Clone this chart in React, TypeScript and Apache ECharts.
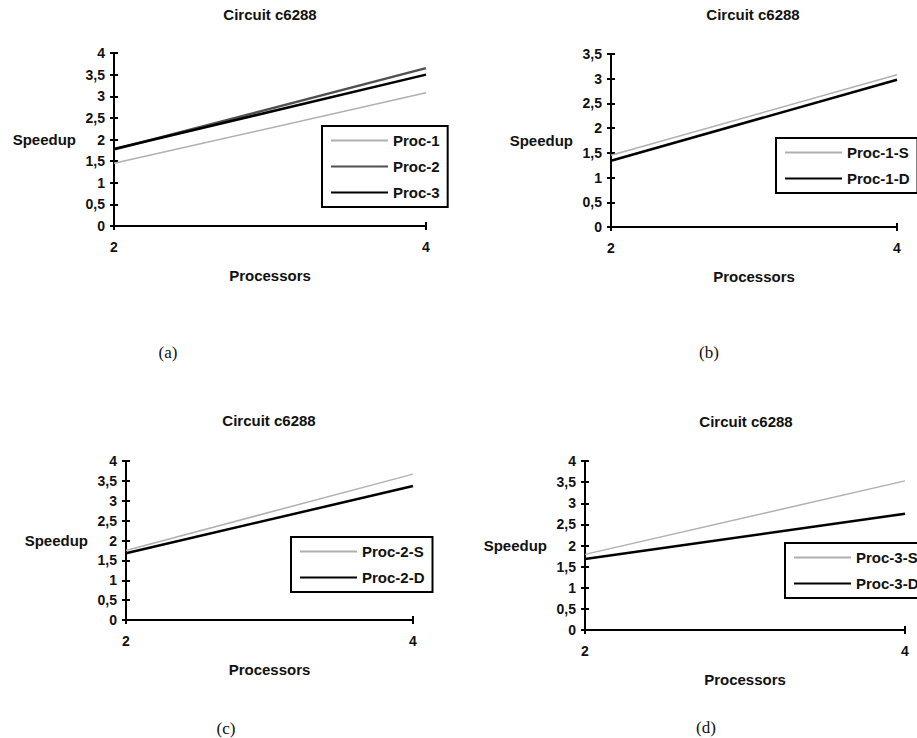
import React, { useEffect, useRef } from "react";
import * as echarts from "echarts";

const processors = [2, 4];

// (a)
const aProc1 = [1.45, 3.08];
const aProc2 = [1.77, 3.65];
const aProc3 = [1.78, 3.5];
// (b)
const bProc1S = [1.45, 3.08];
const bProc1D = [1.34, 2.98];
// (c)
const cProc2S = [1.75, 3.67];
const cProc2D = [1.68, 3.37];
// (d)
const dProc3S = [1.79, 3.53];
const dProc3D = [1.68, 2.75];

const titleText = "Circuit c6288";
const xName = "Processors";
const yName = "Speedup";
const panelLabels = ["(a)", "(b)", "(c)", "(d)"];
const yMaxes = [4, 3.5, 4, 4];

const FONT = "'Liberation Sans', Arial, sans-serif";

const pairs = (ys: number[]) => processors.map((x, i) => [x, ys[i]]);

export default function App() {
  const ref = useRef<HTMLDivElement>(null);
  useEffect(() => {
    if (!ref.current) return;
    const chart = echarts.init(ref.current, null, { renderer: "svg" });

    const grids = [
      { left: 114, top: 53, width: 312, height: 173 },
      { left: 611, top: 54, width: 286, height: 173 },
      { left: 126, top: 461, width: 287, height: 159 },
      { left: 585, top: 461, width: 320, height: 169 },
    ];
    const titleCenters = [
      [270, 7],
      [753, 7],
      [269, 413],
      [746, 414],
    ];
    const labelPos = [
      [168, 352],
      [709, 352],
      [226, 728],
      [706, 727],
    ];

    const light = { color: "#b0b0b0", width: 1.5 };
    const mid = { color: "#505050", width: 2.5 };
    const dark = { color: "#000000", width: 2.5 };

    const seriesDefs = [
      { name: "Proc-1", g: 0, data: aProc1, ls: light },
      { name: "Proc-2", g: 0, data: aProc2, ls: mid },
      { name: "Proc-3", g: 0, data: aProc3, ls: dark },
      { name: "Proc-1-S", g: 1, data: bProc1S, ls: light },
      { name: "Proc-1-D", g: 1, data: bProc1D, ls: dark },
      { name: "Proc-2-S", g: 2, data: cProc2S, ls: light },
      { name: "Proc-2-D", g: 2, data: cProc2D, ls: dark },
      { name: "Proc-3-S", g: 3, data: dProc3S, ls: light },
      { name: "Proc-3-D", g: 3, data: dProc3D, ls: dark },
    ];

    const legendBoxes = [
      { left: 322, top: 126, names: ["Proc-1", "Proc-2", "Proc-3"] },
      { left: 776, top: 138, names: ["Proc-1-S", "Proc-1-D"] },
      { left: 291, top: 537, names: ["Proc-2-S", "Proc-2-D"] },
      { left: 785, top: 543, names: ["Proc-3-S", "Proc-3-D"] },
    ];

    const axisLineStyle = { color: "#000", width: 2 };
    const tickFmt = (v: number) => String(v).replace(".", ",");

    const xAxes: any[] = [];
    const yAxes: any[] = [];
    grids.forEach((_, i) => {
      xAxes.push({
        type: "value",
        gridIndex: i,
        position: "bottom",
        min: 2,
        max: 4,
        interval: 2,
        name: xName,
        nameLocation: "middle",
        nameGap: 42,
        nameTextStyle: { fontFamily: FONT, fontWeight: "bold", fontSize: 15, color: "#111" },
        axisLine: { lineStyle: axisLineStyle },
        axisTick: { show: true, length: 4, lineStyle: axisLineStyle },
        axisLabel: { fontFamily: FONT, fontWeight: "bold", fontSize: 14, color: "#111", margin: 14 },
        splitLine: { show: false },
      });
      xAxes.push({
        type: "value",
        gridIndex: i,
        position: "bottom",
        min: 2,
        max: 4,
        interval: 2,
        axisLine: { show: false },
        axisTick: { show: true, inside: true, length: 4, lineStyle: axisLineStyle },
        axisLabel: { show: false },
        splitLine: { show: false },
      });
      yAxes.push({
        type: "value",
        gridIndex: i,
        position: "left",
        min: 0,
        max: yMaxes[i],
        interval: 0.5,
        name: yName,
        nameLocation: "middle",
        nameRotate: 0,
        nameGap: 38,
        nameTextStyle: { fontFamily: FONT, fontWeight: "bold", fontSize: 15, color: "#111", align: "right" },
        axisLine: { lineStyle: axisLineStyle },
        axisTick: { show: true, length: 4, lineStyle: axisLineStyle },
        axisLabel: { fontFamily: FONT, fontWeight: "bold", fontSize: 14, color: "#111", margin: 9, formatter: tickFmt },
        splitLine: { show: false },
      });
      yAxes.push({
        type: "value",
        gridIndex: i,
        position: "left",
        min: 0,
        max: yMaxes[i],
        interval: 0.5,
        axisLine: { show: false },
        axisTick: { show: true, inside: true, length: 4, lineStyle: axisLineStyle },
        axisLabel: { show: false },
        splitLine: { show: false },
      });
    });

    const option: any = {
      animation: false,
      backgroundColor: "#fff",
      title: titleCenters.map(([x, y]) => ({
        text: titleText,
        left: x,
        top: y,
        textAlign: "center",
        padding: 0,
        textStyle: { fontFamily: FONT, fontWeight: "bold", fontSize: 15, color: "#111" },
      })),
      grid: grids.map((g) => ({ ...g, containLabel: false })),
      xAxis: xAxes,
      yAxis: yAxes,
      legend: legendBoxes.map((lb) => ({
        data: lb.names,
        left: lb.left,
        top: lb.top,
        orient: "vertical",
        align: "left",
        selectedMode: false,
        borderColor: "#000",
        borderWidth: 2,
        padding: [7, 8, 7, 8],
        itemGap: 11,
        itemWidth: 57,
        itemHeight: 14,
        itemStyle: { opacity: 0 },
        textStyle: { fontFamily: FONT, fontWeight: "bold", fontSize: 15, color: "#111", padding: [0, 0, 0, 0] },
      })),
      series: seriesDefs.map((s) => ({
        type: "line",
        name: s.name,
        xAxisIndex: s.g * 2,
        yAxisIndex: s.g * 2,
        data: pairs(s.data),
        symbol: "none",
        lineStyle: { color: s.ls.color, width: s.ls.width },
        itemStyle: { color: s.ls.color },
        z: s.ls === light ? 2 : 3,
      })),
      graphic: labelPos.map(([x, y], i) => ({
        type: "text",
        x,
        y,
        style: {
          text: panelLabels[i],
          fontFamily: "'Liberation Serif', 'Times New Roman', serif",
          fontSize: 17,
          fill: "#111",
          textAlign: "center",
          textVerticalAlign: "middle",
        },
      })),
    };

    chart.setOption(option);
    return () => chart.dispose();
  }, []);

  return (
    <div
      ref={ref}
      style={{ position: "absolute", left: 0, top: 0, width: 917, height: 738 }}
    />
  );
}
